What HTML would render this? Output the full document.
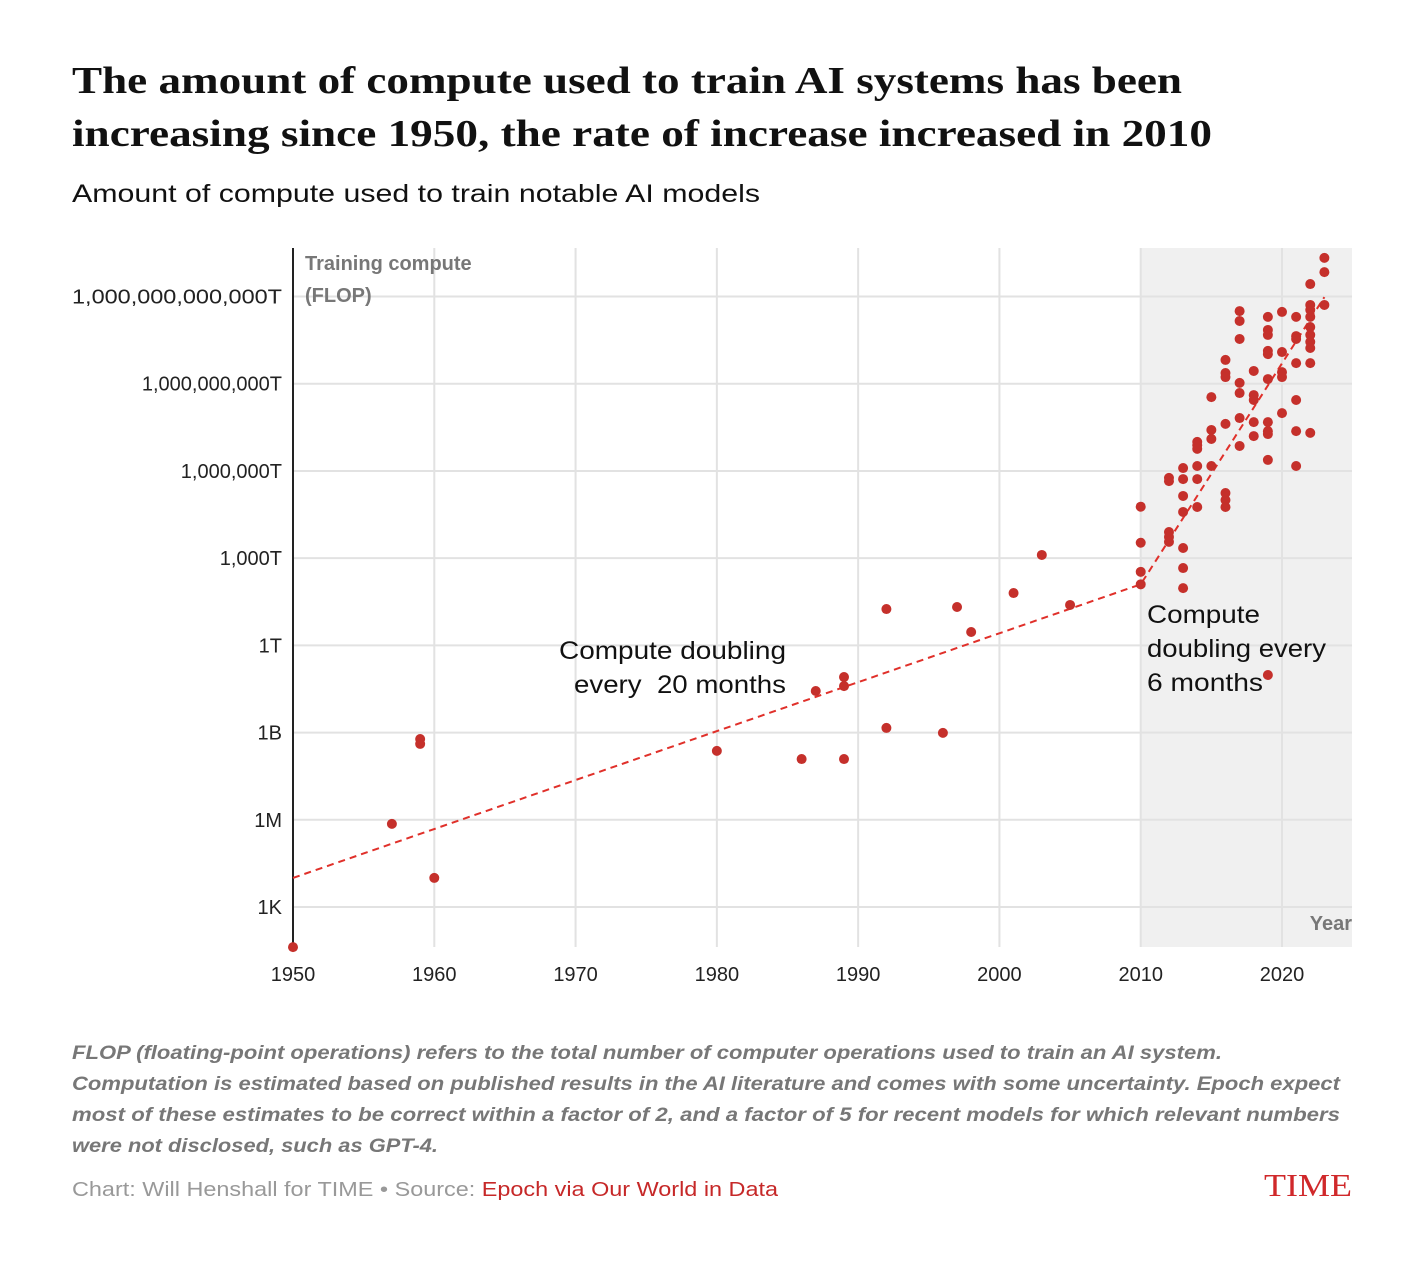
<!DOCTYPE html>
<html><head><meta charset="utf-8"><style>
html,body{margin:0;padding:0;background:#fff;}
svg{display:block;font-family:"Liberation Sans",sans-serif;}
</style></head><body>
<svg id="chart" width="1424" height="1264" viewBox="0 0 1424 1264">
<text x="72" y="93" font-family="Liberation Serif,serif" font-weight="bold" font-size="38" fill="#111" textLength="1110" lengthAdjust="spacingAndGlyphs">The amount of compute used to train AI systems has been</text>
<text x="72" y="146" font-family="Liberation Serif,serif" font-weight="bold" font-size="38" fill="#111" textLength="1140" lengthAdjust="spacingAndGlyphs">increasing since 1950, the rate of increase increased in 2010</text>
<text x="72" y="202" font-size="25" fill="#111" textLength="688" lengthAdjust="spacingAndGlyphs">Amount of compute used to train notable AI models</text>
<g id="plot"></g>
<g font-style="italic" font-weight="bold" font-size="19" fill="#777">
<text x="72" y="1059" textLength="1150" lengthAdjust="spacingAndGlyphs">FLOP (floating-point operations) refers to the total number of computer operations used to train an AI system.</text>
<text x="72" y="1090" textLength="1268" lengthAdjust="spacingAndGlyphs">Computation is estimated based on published results in the AI literature and comes with some uncertainty. Epoch expect</text>
<text x="72" y="1121" textLength="1268" lengthAdjust="spacingAndGlyphs">most of these estimates to be correct within a factor of 2, and a factor of 5 for recent models for which relevant numbers</text>
<text x="72" y="1152" textLength="366" lengthAdjust="spacingAndGlyphs">were not disclosed, such as GPT-4.</text>
</g>
<text x="72" y="1196" font-size="20" fill="#999" textLength="706" lengthAdjust="spacingAndGlyphs">Chart: Will Henshall for TIME • Source: <tspan fill="#c62828">Epoch via Our World in Data</tspan></text>
<text x="1352" y="1196" text-anchor="end" font-family="Liberation Serif,serif" font-size="32" fill="#d0282a" textLength="88" lengthAdjust="spacingAndGlyphs">TIME</text>
</svg>
<script>
const years = [1950,1957,1959,1959,1960,1980,1986,1987,1989,1989,1989,1992,1992,1996,1997,1998,2001,2003,2005,
2010,2010,2010,2010,
2012,2012,2012,2012,2012,
2013,2013,2013,2013,2013,2013,2013,
2014,2014,2014,2014,2014,2014,
2015,2015,2015,2015,
2016,2016,2016,2016,2016,2016,2016,
2017,2017,2017,2017,2017,2017,2017,
2018,2018,2018,2018,2018,
2019,2019,2019,2019,2019,2019,2019,2019,2019,2019,2019,
2020,2020,2020,2020,2020,
2021,2021,2021,2021,2021,2021,2021,
2022,2022,2022,2022,2022,2022,2022,2022,2022,2022,
2023,2023,2023];
const logFlop = [1.62,5.86,8.78,8.61,4.0,8.37,8.09,10.43,10.91,10.60,8.09,13.25,9.16,8.99,13.32,12.46,13.80,15.11,13.39,
16.77,15.53,14.53,14.10,
17.76,17.65,15.90,15.73,15.56,
18.10,17.72,17.14,16.59,15.35,14.66,13.97,
19.0,18.89,18.76,18.17,17.72,16.76,
20.54,19.41,19.10,18.17,
21.82,21.37,21.23,19.62,17.24,17.0,16.76,
23.50,23.16,22.54,21.03,20.68,19.82,18.86,
21.44,20.61,20.44,19.68,19.20,
23.30,22.85,22.68,22.13,22.02,21.16,19.68,19.37,19.27,18.38,10.98,
23.47,22.09,21.40,21.23,19.99,
23.30,22.64,22.54,21.71,20.44,19.37,18.17,
24.43,23.71,23.54,23.30,22.95,22.68,22.44,22.23,21.71,19.31,
25.33,24.84,23.71];
const trendYears = [1950,2010,2023];
const trendLog = [4.0,14.1,23.98];
const xTicks = [1950,1960,1970,1980,1990,2000,2010,2020];
const yTickLogs = [3,6,9,12,15,18,21,24];
const yTickLabels = ["1K","1M","1B","1T","1,000T","1,000,000T","1,000,000,000T","1,000,000,000,000T"];

const L=293,R=1352,T=248,B=947;
const xs=y=>L+(y-1950)*(1282-L)/70;
const ys=v=>907-(v-3)*29.07;
const NS="http://www.w3.org/2000/svg";
const g=document.getElementById('plot');
function mk(tag,attrs,parent){const e=document.createElementNS(NS,tag);for(const k in attrs)e.setAttribute(k,attrs[k]);(parent||g).appendChild(e);return e;}
let e=mk('rect',{x:xs(2010),y:T,width:R-xs(2010),height:B-T,fill:'#f0f0f0'});


xTicks.forEach(t=>{
 const l=mk('line',{x1:xs(t),x2:xs(t),y1:T,y2:B,stroke:'#e2e2e2','stroke-width':2});
 
 
 const tx=mk('text',{x:xs(t),y:981,'text-anchor':'middle','font-size':20,fill:'#222'});
 tx.textContent=t;
 
 
});
yTickLogs.forEach((v,i)=>{
 const l=mk('line',{x1:L,x2:R,y1:ys(v),y2:ys(v),stroke:'#e2e2e2','stroke-width':2});
 
 
 const tx=mk('text',{x:282,y:ys(v)+7,'text-anchor':'end','font-size':20,fill:'#222'});
 tx.textContent=yTickLabels[i];
 if(i===7){tx.setAttribute('textLength','210');tx.setAttribute('lengthAdjust','spacingAndGlyphs');}
 
 
});
e=mk('line',{x1:L,x2:L,y1:T,y2:B,stroke:'#222','stroke-width':2});


let t1=mk('text',{x:305,y:270,'font-size':20,'font-weight':'bold',fill:'#777'});
t1.textContent='Training compute';


let t2=mk('text',{x:305,y:302,'font-size':20,'font-weight':'bold',fill:'#777'});
t2.textContent='(FLOP)';


let t3=mk('text',{x:1352,y:930,'text-anchor':'end','font-size':20,'font-weight':'bold',fill:'#777'});
t3.textContent='Year';


let pts=trendYears.map((y,i)=>xs(y)+','+ys(trendLog[i])).join(' ');
e=mk('polyline',{points:pts,fill:'none',stroke:'#e0302a','stroke-width':2,'stroke-dasharray':'7,5'});


years.forEach((y,i)=>{
 const c=mk('circle',{cx:xs(y),cy:ys(logFlop[i]),r:5,fill:'#c5302b'});
 
 
});
[['Compute doubling',786,659,'end',227],['every\u00a0\u00a020 months',786,693,'end',212],['Compute',1147,623,'start',113],['doubling every',1147,657,'start',179],['6 months',1147,691,'start',116]].forEach((a,i)=>{
 const tx=mk('text',{x:a[1],y:a[2],'text-anchor':a[3],'font-size':25,fill:'#111',textLength:a[4],lengthAdjust:'spacingAndGlyphs'});
 tx.textContent=a[0];
 
 
});
</script>
</body></html>
